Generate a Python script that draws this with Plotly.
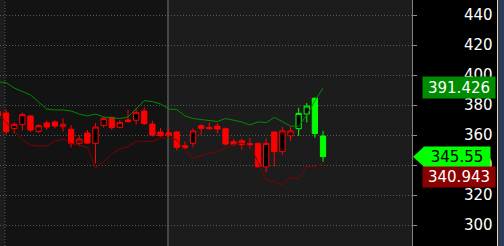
import plotly.graph_objects as go

# ---- data ----
bar_index = list(range(41))
opens = [375.5, 374.7, 364.4, 367.1, 372.7, 362.4, 368.0, 368.7, 365.8, 363.8,
         354.5, 361.3, 354.4, 366.4, 371.8, 365.1, 370.0, 369.8, 376.0, 367.3,
         362.0, 361.5, 362.0, 352.9, 354.4, 366.2, 365.0, 366.0, 364.2, 355.5,
         356.1, 354.2, 354.4, 338.7, 362.0, 348.9, 359.5, 364.2, 374.0, 384.5, 359.3]
highs = [376.5, 377.0, 368.4, 375.1, 373.0, 367.3, 369.5, 369.8, 371.0, 366.5,
         359.8, 363.3, 368.0, 372.2, 372.2, 370.0, 376.7, 378.2, 378.5, 369.5,
         364.7, 365.1, 362.7, 355.5, 364.4, 367.1, 368.4, 368.0, 365.0, 357.3,
         357.8, 358.0, 355.0, 357.8, 362.2, 365.3, 365.6, 378.2, 381.3, 385.0, 362.7]
lows = [372.0, 360.5, 361.1, 363.0, 362.0, 361.5, 363.5, 364.5, 362.2, 351.7,
        352.5, 354.0, 341.0, 365.0, 363.5, 364.5, 368.3, 367.0, 366.7, 358.9,
        358.9, 358.2, 349.8, 350.7, 351.8, 359.8, 363.6, 361.0, 352.9, 352.7,
        350.2, 351.0, 338.3, 335.1, 338.9, 346.7, 356.2, 359.5, 368.4, 358.2, 342.2]
closes = [372.9, 362.2, 367.1, 373.6, 363.3, 366.2, 365.3, 366.0, 367.1, 354.3,
          357.3, 354.6, 365.3, 371.1, 364.9, 368.4, 368.9, 375.1, 367.6, 360.0,
          359.5, 360.0, 351.8, 351.5, 362.7, 364.4, 364.2, 364.0, 354.0, 353.8,
          353.6, 353.6, 338.9, 354.4, 348.9, 362.7, 362.7, 374.4, 379.3, 361.0, 345.55]
signal = ["down"] * 37 + ["up"] * 4
upper_band = [395.5, 394.8, 391.3, 389.0, 386.7, 382.0, 377.3, 376.7, 376.7, 376.0,
              374.0, 372.7, 374.0, 372.0, 371.3, 371.0, 372.0, 377.3, 382.9, 382.3,
              380.7, 377.3, 377.0, 372.7, 371.0, 370.3, 369.7, 369.0, 371.0, 369.7,
              368.7, 366.7, 368.7, 368.3, 371.7, 368.9, 366.0, 365.7, 373.3, 382.7, 391.426]
lower_band = [374.0, 368.3, 362.7, 357.0, 353.3, 352.7, 352.7, 356.0, 357.3, 354.3,
              353.3, 351.8, 338.0, 342.3, 347.3, 350.7, 352.3, 355.7, 356.0, 355.7,
              357.7, 358.3, 356.7, 350.0, 344.5, 346.0, 348.0, 348.9, 351.3, 353.7,
              354.7, 352.7, 342.0, 330.0, 328.7, 326.7, 332.0, 330.7, 339.3, 338.7, 340.943]
y_ticks = [300, 320, 340, 360, 380, 400, 420, 440]

FONT = "DejaVu Sans"
signal_colors = {"down": "#ff0000", "up": "#00ff00"}

fig = go.Figure()

fig.add_trace(go.Scatter(x=bar_index, y=upper_band, mode="lines",
                         line=dict(color="#008a00", width=1),
                         hoverinfo="skip", showlegend=False))
fig.add_trace(go.Scatter(x=bar_index, y=lower_band, mode="lines",
                         line=dict(color="#800000", width=1),
                         hoverinfo="skip", showlegend=False))

for sig, col in signal_colors.items():
    sel = [i for i, s in enumerate(signal) if s == sig]
    fig.add_trace(go.Candlestick(
        x=[bar_index[i] for i in sel],
        open=[opens[i] for i in sel],
        high=[highs[i] for i in sel],
        low=[lows[i] for i in sel],
        close=[closes[i] for i in sel],
        increasing=dict(line=dict(color=col, width=1), fillcolor="#000000"),
        decreasing=dict(line=dict(color=col, width=1), fillcolor=col),
        whiskerwidth=0, hoverinfo="skip", showlegend=False))

PW = 412.0  # plot width in px

shapes = [
    dict(type="rect", xref="x", yref="paper", x0=0.86, x1=20.92, y0=0, y1=1,
         fillcolor="#131313", line=dict(width=0), layer="below"),
    dict(type="line", xref="x", yref="paper", x0=0.86, x1=0.86, y0=0, y1=1,
         line=dict(color="#5a5a5a", width=1, dash="1px,2px"), layer="below"),
    dict(type="line", xref="x", yref="paper", x0=20.92, x1=20.92, y0=0, y1=1,
         line=dict(color="#585858", width=1.5), layer="below"),
    dict(type="rect", xref="paper", yref="paper", x0=497.5 / PW, x1=506 / PW, y0=0, y1=1,
         fillcolor="#2c3a58", line=dict(width=0)),
    dict(type="line", xref="paper", yref="paper", x0=497.5 / PW, x1=497.5 / PW, y0=0, y1=1,
         line=dict(color="#e6d8b0", width=1)),
    dict(type="path", xref="paper", yref="y", xsizemode="pixel", ysizemode="pixel",
         xanchor=1.0, yanchor=closes[-1], path="M1,0 L12,10 L12,-10 Z",
         fillcolor="#00ff00", line=dict(width=0)),
]

annotations = [
    dict(xref="paper", yref="y", x=459 / PW, y=upper_band[-1], text=f"{upper_band[-1]:g}",
         showarrow=False, width=72, height=21, bgcolor="#008c00", borderpad=0,
         font=dict(family=FONT, size=15, color="#ffffff"), xanchor="center", yanchor="middle"),
    dict(xref="paper", yref="y", x=457 / PW, y=closes[-1], text=f"{closes[-1]:g}",
         showarrow=False, width=66, height=20, bgcolor="#00ff00", borderpad=0,
         font=dict(family=FONT, size=15, color="#000000"), xanchor="center", yanchor="middle"),
    dict(xref="paper", yref="y", x=459 / PW, y=lower_band[-1], yshift=-13.7,
         text=f"{lower_band[-1]:g}",
         showarrow=False, width=72, height=20, bgcolor="#8b0000", borderpad=0,
         font=dict(family=FONT, size=15, color="#ffffff"), xanchor="center", yanchor="middle"),
]

fig.update_layout(
    width=504, height=246, autosize=False,
    margin=dict(l=0, r=92, t=0, b=0, pad=0),
    paper_bgcolor="#000000", plot_bgcolor="#1c1c1c",
    boxgap=0.35, boxgroupgap=0,
    showlegend=False, hovermode=False,
    shapes=shapes, annotations=annotations,
    xaxis=dict(range=[0.246, 50.95], showgrid=False, showticklabels=False,
               zeroline=False, showline=False, ticks="",
               rangeslider=dict(visible=False), fixedrange=True),
    yaxis=dict(side="right", range=[286, 450], tickmode="array", tickvals=y_ticks,
               ticktext=[str(v) for v in y_ticks],
               ticks="outside", ticklen=4, tickcolor="#8a8a8a", tickwidth=1,
               showline=True, linecolor="#808080", linewidth=1,
               showgrid=True, gridcolor="#5a5a5a", gridwidth=1, griddash="1px,2px",
               zeroline=False, ticklabelstandoff=44,
               tickfont=dict(family=FONT, size=15, color="#ffffff"), fixedrange=True),
)

fig.write_html("out.html", config={"displayModeBar": False})
